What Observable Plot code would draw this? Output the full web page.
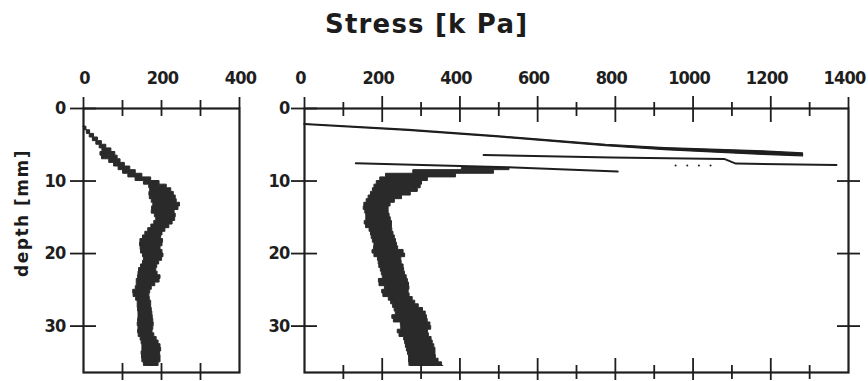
<!DOCTYPE html>
<html>
<head>
<meta charset="utf-8">
<script src="https://cdn.jsdelivr.net/npm/d3@7"></script>
<script src="https://cdn.jsdelivr.net/npm/@observablehq/plot@0.6"></script>
<style>
  body { margin: 0; background: #fff; }
  #wrap { position: relative; width: 868px; height: 381px; overflow: hidden; background: #fff;
          font-family: "DejaVu Sans", sans-serif; color: #1c1c1c; }
  #title { position: absolute; left: 325px; top: 9px; font-size: 26px; font-weight: bold; letter-spacing: 1.2px; white-space: nowrap; line-height: 1.2; }
  #ylab { position: absolute; left: 22px; top: 213px; font-size: 17px; font-weight: bold; letter-spacing: 1.5px; white-space: nowrap;
          transform: translate(-50%, -50%) rotate(-90deg); }
  .panel { position: absolute; top: 50px; }
  .panel svg { overflow: visible; }
  .panel text { letter-spacing: -0.8px; }
</style>
</head>
<body>
<div id="wrap">
  <div id="title">Stress [k Pa]</div>
  <div id="ylab">depth [mm]</div>
  <div id="left" class="panel" style="left:0px"></div>
  <div id="right" class="panel" style="left:250px"></div>
</div>
<script>
// ---------- data ----------
// Left panel: stress trace band (min / max of the noisy trace) vs depth
const leftDepth = [2.5,3.0,3.5,4.0,4.5,5.0,5.5,6.0,6.5,7.0,7.5,8.0,8.5,9.0,9.5,10.0,10.5,11.0,11.5,12.0,12.5,13.0,13.5,14.0,14.5,15.0,15.5,16.0,16.5,17.0,17.5,18.0,18.5,19.0,19.5,20.0,20.5,21.0,21.5,22.0,22.5,23.0,23.5,24.0,24.5,25.0,25.5,26.0,26.5,27.0,27.5,28.0,28.5,29.0,29.5,30.0,30.5,31.0,31.5,32.0,32.5,33.0,33.5,34.0,34.5,35.0,35.5];
const leftLo    = [0,5,12,20,28,38,45,52,35,60,72,85,95,108,122,145,165,172,170,168,172,178,180,172,178,188,185,178,170,162,155,150,142,148,145,150,155,155,150,145,140,142,138,135,138,130,125,132,138,140,138,142,140,142,138,140,142,138,145,148,150,152,150,148,152,150,160];
const leftHi    = [3,12,22,32,42,52,65,78,85,90,100,112,128,140,162,185,205,222,228,235,238,240,255,232,235,238,232,225,215,205,200,198,210,195,200,205,205,198,190,188,185,195,200,190,178,172,170,168,172,175,172,178,175,180,178,182,176,178,185,190,195,200,198,195,200,195,190];

// Right panel: main noisy band vs depth
const rightDepth = [8.2,8.5,9.0,9.5,10.0,10.5,11.0,11.5,12.0,12.5,13.0,13.5,14.0,14.5,15.0,15.5,16.0,16.5,17.0,17.5,18.0,18.5,19.0,19.5,20.0,20.5,21.0,21.5,22.0,22.5,23.0,23.5,24.0,24.5,25.0,25.5,26.0,26.5,27.0,27.5,28.0,28.5,29.0,29.5,30.0,30.5,31.0,31.5,32.0,32.5,33.0,33.5,34.0,34.5,35.0,35.5];
const rightLo    = [470,340,220,200,190,182,178,174,168,162,158,150,155,158,160,158,152,165,170,172,174,178,182,176,174,186,192,190,195,198,200,203,180,206,208,192,214,220,226,230,234,236,216,244,252,246,234,255,258,260,262,265,268,270,268,272];
const rightHi    = [530,525,450,330,305,300,298,285,262,240,225,218,215,218,220,224,226,224,228,230,235,236,240,242,268,250,248,252,258,255,262,264,268,270,270,266,275,282,288,300,310,314,316,318,330,322,314,326,328,332,336,338,336,340,350,358];

// Right panel: first loading ramp (thickening trace)
const aStress = [0,269,502,776,928,1181,1283];
const aTop    = [2.15,2.95,3.85,5.0,5.45,5.9,6.2];
const aBottom = [2.25,3.1,4.0,5.2,5.75,6.4,6.6];
// second ramp
const bStress = [461,790,1080,1110,1369];
const bDepth  = [6.4,6.75,6.95,7.6,7.8];
// third ramp
const cStress = [132,522,806];
const cDepth  = [7.55,8.1,8.7];
// faint dotted fragment
const dStress = [955,985,1015,1045];
const dDepth  = [7.85,7.85,7.85,7.85];

// ticks
const leftEdges = [0,400];
const leftMinor = [100,200,300];
const leftLabels = [0,200,400];
const rightEdges = [0,1400];
const rightMajor = [200,400,600,800,1000,1200];
const rightMinor = [100,300,500,700,900,1100,1300];
const rightLabels = [0,200,400,600,800,1000,1200,1400];
const depthTicks = [0,10,20,30];
const depthInner = [10,20,30];

// ---------- drawing ----------
const ink = "#1e1e1e";
const font = "'DejaVu Sans Condensed', 'Liberation Sans Narrow', 'DejaVu Sans', sans-serif";
const H = 331, MT = 58, MB = 9;
const innerH = H - MT - MB;
const fmt = d => String(d);

const leftRows = leftDepth.map((d, i) => ({depth: d, lo: leftLo[i], hi: leftHi[i]}));
const rightRows = rightDepth.map((d, i) => ({depth: d, lo: rightLo[i], hi: rightHi[i]}));
const aRows = aStress.map((s, i) => ({s, t: aTop[i], b: aBottom[i]}));
const bRows = bStress.map((s, i) => ({s, d: bDepth[i]}));
const cRows = cStress.map((s, i) => ({s, d: cDepth[i]}));
const dRows = dStress.map((s, i) => ({s, d: dDepth[i]}));

const tick = {stroke: ink, strokeWidth: 1.8};

// Left plot
{
  const W = 250, ML = 83, MR = 11, innerW = W - ML - MR;
  const p = Plot.plot({
    width: W, height: H, marginLeft: ML, marginRight: MR, marginTop: MT, marginBottom: MB,
    style: {fontFamily: font, fontWeight: "bold", color: ink, background: "transparent", overflow: "visible"},
    x: {domain: [0, 400]},
    y: {domain: [0, 36.4], reverse: true},
    marks: [
      Plot.areaX(leftRows, {y: "depth", x1: "lo", x2: "hi", curve: "step", fill: "#2a2a2a", stroke: "#2a2a2a", strokeWidth: 1}),
      Plot.frame({stroke: ink, strokeWidth: 2.2}),
      Plot.ruleX(leftEdges, {x: d => d, ...tick, insetTop: -11, insetBottom: innerH}),
      Plot.ruleX(leftMinor, {x: d => d, ...tick, insetTop: -8, insetBottom: innerH - 8}),
      Plot.ruleX(leftMinor, {x: d => d, ...tick, insetTop: innerH - 9, insetBottom: -8}),
      Plot.ruleY(depthTicks, {y: d => d, ...tick, insetLeft: -13, insetRight: innerW - 13}),
      Plot.axisX({ticks: leftLabels, tickFormat: fmt, anchor: "top", tickSize: 0, tickPadding: 25, fontSize: 18, dx: 1, label: null}),
      Plot.axisY({ticks: depthTicks, tickFormat: fmt, anchor: "left", tickSize: 0, tickPadding: 18, fontSize: 18, label: null})
    ]
  });
  document.getElementById("left").appendChild(p);
}

// Right plot
{
  const W = 618, ML = 54, MR = 20, innerW = W - ML - MR;
  const p = Plot.plot({
    width: W, height: H, marginLeft: ML, marginRight: MR, marginTop: MT, marginBottom: MB,
    style: {fontFamily: font, fontWeight: "bold", color: ink, background: "transparent", overflow: "visible"},
    x: {domain: [0, 1400]},
    y: {domain: [0, 36.4], reverse: true},
    marks: [
      Plot.areaX(rightRows, {y: "depth", x1: "lo", x2: "hi", curve: "step", fill: "#2a2a2a", stroke: "#2a2a2a", strokeWidth: 1}),
      Plot.areaY(aRows, {x: "s", y1: "t", y2: "b", fill: ink, stroke: ink, strokeWidth: 1.2}),
      Plot.line(bRows, {x: "s", y: "d", stroke: ink, strokeWidth: 2}),
      Plot.line(cRows, {x: "s", y: "d", stroke: ink, strokeWidth: 2}),
      Plot.dot(dRows, {x: "s", y: "d", r: 1, fill: ink, stroke: null}),
      Plot.frame({stroke: ink, strokeWidth: 2.2}),
      Plot.ruleX(rightEdges, {x: d => d, ...tick, insetTop: -11, insetBottom: innerH}),
      Plot.ruleX(rightMajor, {x: d => d, ...tick, insetTop: -12, insetBottom: innerH - 14}),
      Plot.ruleX(rightMinor, {x: d => d, ...tick, insetTop: -6, insetBottom: innerH - 8}),
      Plot.ruleX(rightMajor, {x: d => d, ...tick, insetTop: innerH - 14, insetBottom: -8}),
      Plot.ruleX(rightMinor, {x: d => d, ...tick, insetTop: innerH - 7, insetBottom: -7}),
      Plot.ruleY(depthTicks, {y: d => d, ...tick, insetLeft: -13, insetRight: innerW - 13}),
      Plot.ruleY(depthInner, {y: d => d, ...tick, insetLeft: innerW - 11, insetRight: -12}),
      Plot.axisX({ticks: rightLabels, tickFormat: fmt, anchor: "top", tickSize: 0, tickPadding: 25, fontSize: 18, dx: -4, label: null}),
      Plot.axisY({ticks: depthTicks, tickFormat: fmt, anchor: "left", tickSize: 0, tickPadding: 15, fontSize: 18, label: null})
    ]
  });
  document.getElementById("right").appendChild(p);
}
</script>
</body>
</html>
